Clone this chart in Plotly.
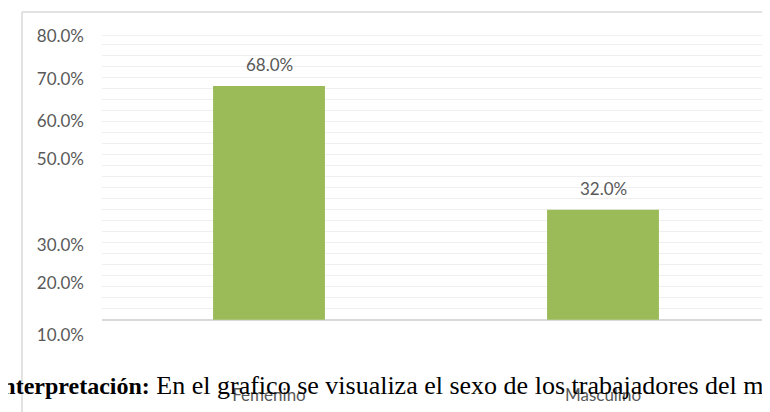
import numpy as np
import plotly.graph_objects as go

# datos del grafico
categorias = ["Femenino", "Masculino"]
porcentajes = [68.0, 32.0]

# etiquetas del eje y (tal como aparecen en la imagen)
etiquetas_y = ["80.0%", "70.0%", "60.0%", "50.0%", "30.0%", "20.0%", "10.0%"]
posiciones_y = [82.4, 70.1, 57.9, 46.7, 21.8, 10.7, -4.4]

# texto del documento bajo el grafico
titulo_pie = "Interpretación:"
cuerpo_pie = "En el grafico se visualiza el sexo de los trabajadores del m"
texto_pie = (
    f"<b><span style='font-size:24px'>{titulo_pie}</span></b> "
    f"<span style='font-size:26px'>{cuerpo_pie}</span>"
)

VERDE = "#9bbb59"
GRIS_TEXTO = "#595959"

fig = go.Figure(
    go.Bar(
        x=categorias,
        y=porcentajes,
        marker=dict(color=VERDE, line=dict(width=0)),
        width=0.335,
        hoverinfo="skip",
    )
)

for cat, val in zip(categorias, porcentajes):
    fig.add_annotation(
        x=cat, y=val, text=f"{val:.1f}%", showarrow=False,
        yanchor="bottom", yshift=9,
        font=dict(family="Lato", size=17, color=GRIS_TEXTO),
    )

# texto del documento que se superpone al grafico
fig.add_annotation(
    xref="paper", yref="paper", x=-0.166, y=-0.159,
    xanchor="left", yanchor="middle", text=texto_pie, showarrow=False,
    font=dict(family="Liberation Serif", size=26, color="#000000"),
)

# marco del area del grafico
fig.add_shape(type="line", xref="paper", yref="paper", x0=-0.1198, x1=1.1,
              y0=1.0762, y1=1.0762, line=dict(color="#d9d9d9", width=1.5))
fig.add_shape(type="line", xref="paper", yref="paper", x0=-0.1198, x1=-0.1198,
              y0=1.0762, y1=-0.4, line=dict(color="#d9d9d9", width=1.5))
fig.add_shape(type="line", xref="paper", yref="y", x0=0, x1=1,
              y0=82.8, y1=82.8, line=dict(color="#e3e3e3", width=1.2))

fig.update_layout(
    width=770,
    height=412,
    margin=dict(l=94, r=8, t=27, b=83),
    paper_bgcolor="white",
    plot_bgcolor="white",
    showlegend=False,
    font=dict(family="Lato", color=GRIS_TEXTO),
    xaxis=dict(
        showgrid=False, showline=False, ticks="",
        tickfont=dict(family="Lato", size=17, color=GRIS_TEXTO),
        ticklabelstandoff=46,
    ),
    yaxis=dict(
        range=[-5, 82.8],
        tickmode="array", tickvals=posiciones_y, ticktext=etiquetas_y,
        showgrid=False, ticks="",
        tickfont=dict(family="Lato", size=17, color=GRIS_TEXTO),
        ticklabelstandoff=17,
        zeroline=True, zerolinecolor="#d9d9d9", zerolinewidth=1.5,
        minor=dict(tickmode="array", tickvals=list(np.arange(3.2, 81, 3.2)),
                   showgrid=True, gridcolor="#efefef", gridwidth=1),
    ),
)

fig.write_html("out.html")
